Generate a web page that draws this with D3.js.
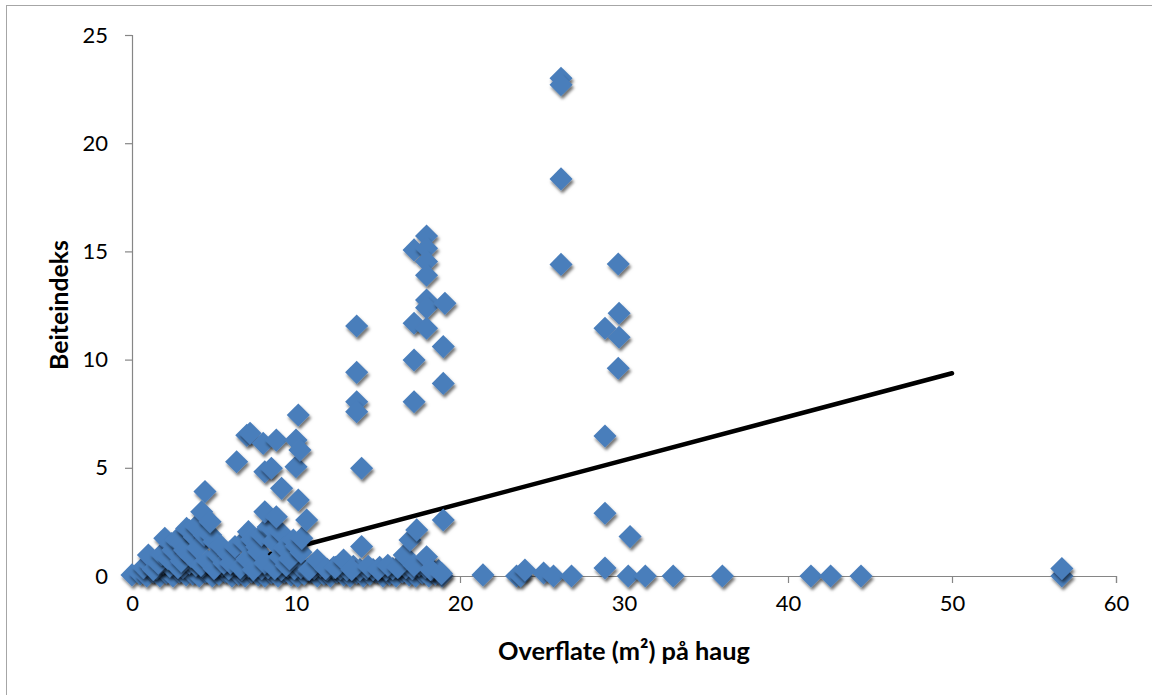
<!DOCTYPE html>
<html>
<head>
<meta charset="utf-8">
<script src="https://cdn.jsdelivr.net/npm/d3@7"></script>
<style>
  html, body { margin: 0; padding: 0; background: #fff; }
  svg { display: block; }
  text { font-family: Lato, "Open Sans", "Liberation Sans", sans-serif; fill: #000; }
</style>
</head>
<body>
<svg id="chart" width="1152" height="695"></svg>
<script>
// ---- Data ----
const xTickValues = [0, 10, 20, 30, 40, 50, 60];
const yTickValues = [0, 5, 10, 15, 20, 25];
const xTitle = "Overflate (m²) på haug";
const yTitle = "Beiteindeks";

// points lying on / near zero (x 0–19)
const baseX = [0, 0.5, 0.9, 1.3, 1.7, 2.1, 2.5, 2.9, 3.3, 3.7, 4.1, 4.5, 4.9, 5.3, 5.7, 6.1, 6.5, 6.9, 7.3, 7.7, 8.1, 8.5, 8.9, 9.3, 9.7, 10.1, 10.5, 10.9, 11.3, 11.7, 12.1, 12.5, 12.9, 13.3, 13.7, 14.1, 14.5, 14.9, 15.3, 15.7, 16.1, 16.5, 16.9, 17.3, 17.7, 18.1, 18.5, 18.9];
const baseY = [0.05, 0.1, 0, 0.2, 0, 0.15, 0, 0.2, 0.05, 0.1, 0, 0.2, 0, 0.1, 0.2, 0, 0.1, 0, 0.2, 0.05, 0, 0.15, 0, 0.2, 0.05, 0, 0.1, 0.2, 0, 0.1, 0, 0.2, 0.05, 0, 0.15, 0, 0.1, 0.2, 0, 0.1, 0, 0.2, 0.05, 0, 0.15, 0, 0.1, 0];

// second row just above zero
const base2X = [0.7, 1.1, 1.5, 1.9, 2.3, 2.7, 3.1, 3.5, 3.9, 4.3, 4.7, 5.1, 5.5, 5.9, 6.3, 6.7, 7.1, 7.5, 7.9, 8.3, 8.7, 9.1, 9.5, 9.9, 10.3, 10.7, 11.1, 11.5, 11.9, 12.3, 12.7, 13.1, 13.5, 13.9, 14.3, 14.7, 15.1, 15.5, 15.9, 16.3, 16.7, 17.1, 17.5, 17.9, 18.3, 18.7];
const base2Y = [0.4, 0.5, 0.35, 0.6, 0.45, 0.55, 0.4, 0.6, 0.5, 0.45, 0.6, 0.4, 0.5, 0.35, 0.55, 0.3, 0.45, 0.5, 0.35, 0.4, 0.5, 0.3, 0.45, 0.35, 0.4, 0.3, 0.35, 0.45, 0.3, 0.4, 0.35, 0.3, 0.45, 0.3, 0.35, 0.3, 0.4, 0.3, 0.35, 0.45, 0.4, 0.35, 0.5, 0.4, 0.3, 0.25];

// low values (y up to ~2.3) in x 0–19
const lowX = [1.0, 1.3, 1.6, 1.8, 2.0, 2.2, 2.4, 2.5, 2.7, 2.8, 3.0, 3.0, 3.2, 3.33, 3.5, 3.6, 3.8, 3.9, 4.0, 4.2, 4.4, 4.6, 4.8, 5.0, 5.0, 5.2, 5.4, 5.6, 5.9, 6.0, 6.28, 6.6, 6.8, 7.0, 7.1, 7.3, 7.4, 7.6, 7.7, 7.9, 8.1, 8.3, 8.5, 8.6, 8.7, 9.0, 9.1, 9.3, 9.4, 9.6, 9.84, 10.0, 10.3, 10.35, 10.8, 11.3, 11.8, 12.4, 12.9, 13.4, 14.0, 14.4, 15.0, 15.6, 16.2, 16.6, 16.95, 17.2, 17.36, 17.96, 18.2, 18.87];
const lowY = [0.97, 0.3, 0.6, 1.0, 1.74, 0.8, 1.5, 1.2, 1.66, 0.4, 1.5, 0.7, 1.2, 2.2, 2.1, 0.9, 1.8, 2.3, 1.3, 0.5, 1.9, 0.7, 1.9, 1.6, 0.35, 1.0, 1.4, 0.6, 1.0, 0.6, 1.36, 0.4, 1.6, 0.8, 2.05, 1.7, 0.3, 1.35, 1.12, 1.9, 0.6, 2.26, 2.2, 1.6, 0.35, 0.9, 2.0, 1.3, 0.5, 0.8, 1.66, 1.4, 1.1, 1.75, 0.3, 0.74, 0.35, 0.4, 0.74, 0.3, 1.36, 0.45, 0.3, 0.5, 0.4, 0.97, 1.66, 0.5, 2.13, 0.89, 0.3, 0.12];

// middle cluster x 4–11
const midX = [4.45, 4.25, 4.76, 6.38, 7.0, 7.2, 8.0, 8.1, 8.1, 8.5, 8.8, 8.8, 9.12, 10.0, 10.0, 10.14, 10.14, 10.24, 10.65];
const midY = [3.9, 2.97, 2.51, 5.28, 6.5, 6.6, 6.13, 4.82, 2.97, 4.98, 6.28, 2.74, 4.05, 6.28, 5.05, 7.44, 3.51, 5.82, 2.59];

// cluster x 13–19
const highX = [13.7, 13.7, 13.7, 13.7, 14.0, 17.96, 17.2, 17.96, 17.96, 17.96, 17.96, 17.96, 19.08, 17.2, 17.96, 18.98, 17.2, 18.98, 17.2, 18.98];
const highY = [11.55, 9.41, 8.05, 7.59, 4.98, 15.71, 15.07, 15.14, 14.53, 13.9, 12.75, 12.4, 12.6, 11.68, 11.45, 10.6, 9.98, 8.9, 8.05, 2.59];

// x beyond 20
const farX = [21.4, 23.45, 23.7, 23.96, 25.1, 25.7, 26.8, 26.16, 26.16, 26.16, 26.16, 29.65, 29.7, 28.84, 29.7, 29.65, 28.84, 28.84, 30.37, 28.84, 30.26, 31.3, 33.0, 36.0, 41.4, 42.6, 44.45, 56.7, 56.7];
const farY = [0.05, 0, 0, 0.28, 0.14, 0, 0, 23.0, 22.7, 18.35, 14.4, 14.42, 12.14, 11.45, 11.03, 9.6, 6.47, 2.9, 1.82, 0.37, 0, 0, 0, 0, 0, 0, 0, 0, 0.35];

// linear trend line end points
const trendX = [0, 50];
const trendY = [-0.68, 9.37];

// ---- Drawing ----
const svg = d3.select("#chart");
const W = 1152, H = 695;
const plot = { left: 132, right: 1116, top: 35, bottom: 576 };
const axisColor = "#868686";
const markerColor = "#4a7ebb";

const x = d3.scaleLinear().domain([0, 60]).range([plot.left, plot.right]);
const y = d3.scaleLinear().domain([0, 25]).range([plot.bottom, plot.top]);

// outer chart border (right/bottom edges fall outside the picture)
svg.append("rect")
  .attr("x", 6.5).attr("y", 5.5)
  .attr("width", W + 10).attr("height", H + 10)
  .attr("fill", "#fff").attr("stroke", "#a6a6a6").attr("stroke-width", 1);

const defs = svg.append("defs");
const f = defs.append("filter").attr("id", "shadow")
  .attr("x", "-50%").attr("y", "-50%").attr("width", "200%").attr("height", "200%");
f.append("feDropShadow").attr("dx", 1.5).attr("dy", 3).attr("stdDeviation", 1.6)
  .attr("flood-color", "#000").attr("flood-opacity", 0.55);

defs.append("clipPath").attr("id", "plotClip").append("rect")
  .attr("x", plot.left).attr("y", plot.top)
  .attr("width", plot.right - plot.left).attr("height", plot.bottom - plot.top);

// Y axis
const yAxis = d3.axisLeft(y).tickValues(yTickValues).tickSize(7).tickPadding(17).tickFormat(d3.format("d"));
const gy = svg.append("g").attr("transform", `translate(${plot.left},0)`).call(yAxis);
gy.select(".domain").attr("stroke", axisColor).attr("stroke-width", 1.2);
gy.selectAll(".tick line").attr("stroke", axisColor).attr("stroke-width", 1.2);
gy.selectAll(".tick text").attr("font-size", 22).attr("font-family", "Lato, sans-serif").attr("fill", "#000");

// X axis (at y = 0)
const xAxis = d3.axisBottom(x).tickValues(xTickValues).tickSize(7).tickPadding(12).tickFormat(d3.format("d"));
const gx = svg.append("g").attr("transform", `translate(0,${y(0)})`).call(xAxis);
gx.select(".domain").attr("stroke", axisColor).attr("stroke-width", 1.2);
gx.selectAll(".tick line").attr("stroke", axisColor).attr("stroke-width", 1.2);
gx.selectAll(".tick text").attr("font-size", 22).attr("font-family", "Lato, sans-serif").attr("fill", "#000");

// trend line (under markers)
const trendData = trendX.map((v, i) => [v, trendY[i]]);
svg.append("path")
  .datum(trendData)
  .attr("clip-path", "url(#plotClip)")
  .attr("d", d3.line().x(d => x(d[0])).y(d => y(d[1])))
  .attr("stroke", "#000").attr("stroke-width", 4.5).attr("fill", "none")
  .attr("stroke-linecap", "round");

// markers
const allX = [].concat(baseX, base2X, lowX, midX, highX, farX);
const allY = [].concat(baseY, base2Y, lowY, midY, highY, farY);
const pts = allX.map((v, i) => [v, allY[i]]);
const diamond = d3.symbol().type(d3.symbolDiamond2).size(340);

svg.append("g")
  .selectAll("path")
  .data(pts)
  .join("path")
  .attr("d", diamond)
  .attr("transform", d => `translate(${x(d[0])},${y(d[1])})`)
  .attr("fill", markerColor)
  .attr("filter", "url(#shadow)");

// axis titles
const xt = svg.append("text")
  .attr("x", 624).attr("y", 660)
  .attr("text-anchor", "middle")
  .attr("font-weight", "bold").attr("font-size", 22)
  .text(xTitle);
const yt = svg.append("text")
  .attr("transform", "translate(68,305) rotate(-90)")
  .attr("text-anchor", "middle")
  .attr("font-weight", "bold").attr("font-size", 22)
  .text(yTitle);
// fit title widths to reference extents
function fit(sel, target) {
  const w = sel.node().getComputedTextLength();
  if (w > 0) sel.attr("font-size", 22 * target / w);
}
fit(xt, 252);
fit(yt, 130);
</script>
</body>
</html>
